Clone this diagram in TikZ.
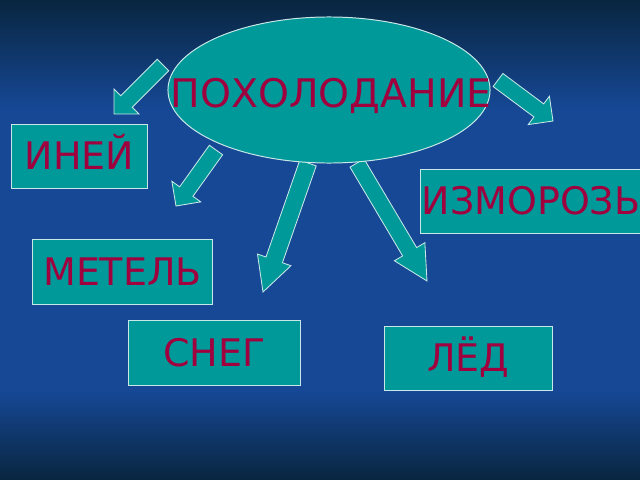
\documentclass[tikz,border=0pt]{standalone}
\usepackage{fontspec}
\setmainfont{DejaVu Sans}
\usetikzlibrary{calc,shapes.geometric}
\definecolor{seablue}{RGB}{22,72,150}
\definecolor{deepblue}{RGB}{9,38,64}
\definecolor{wave}{RGB}{0,153,153}
\definecolor{berry}{RGB}{160,0,62}
\definecolor{frost}{RGB}{200,232,232}
\tikzset{
  wordbox/.style={draw=frost, line width=0.7pt, fill=wave, inner sep=0pt, text=berry,
    font=\fontsize{27}{30}\selectfont, text height=19.7pt, text depth=0pt},
  bigoval/.style={ellipse, draw=frost, line width=0.7pt, fill=wave, inner sep=0pt,
    minimum width=8.05cm, minimum height=3.65cm},
  arrowbody/.style={draw=frost, line width=0.6pt, fill=wave}
}
\newcommand{\blockarrow}[5]{%
  \path ($(#2)!#5!(#1)$) coordinate (neck);
  \draw[arrowbody] ($(#1)!#3!90:(#2)$) -- ($(neck)!#3!90:(#2)$) -- ($(neck)!#4!90:(#2)$)
    -- (#2) -- ($(neck)!#4!-90:(#2)$) -- ($(neck)!#3!-90:(#2)$) -- ($(#1)!#3!-90:(#2)$) -- cycle;}
\begin{document}
\begin{tikzpicture}[x=0.025cm, y=-0.025cm]
  \useasboundingbox (0,0) rectangle (640,480);
  \fill[seablue] (0,0) rectangle (640,480);
  \shade[top color=deepblue, bottom color=seablue] (0,0) rectangle (640,110);
  \shade[top color=seablue, bottom color=deepblue] (0,390) rectangle (640,480);

  \coordinate (t1) at (163,65);  \coordinate (h1) at (114,114);
  \coordinate (t2) at (498,80);  \coordinate (h2) at (553,121);
  \coordinate (t3) at (216,150); \coordinate (h3) at (176,206);
  \coordinate (t4) at (308,163); \coordinate (h4) at (263,292);
  \coordinate (t5) at (357,163); \coordinate (h5) at (427,281);
  \blockarrow{t1}{h1}{5.8pt}{12.6pt}{12.6pt}
  \blockarrow{t2}{h2}{5.8pt}{12.6pt}{12.6pt}
  \blockarrow{t3}{h3}{5.8pt}{12.6pt}{12.6pt}
  \blockarrow{t4}{h4}{6.2pt}{12.6pt}{24.2pt}
  \blockarrow{t5}{h5}{5.8pt}{12.6pt}{24.2pt}

  \node[bigoval] (cold) at (329,90) {};
  \node[text=berry, font=\fontsize{28}{31}\selectfont, text height=20.4pt, text depth=0pt]
    (coldword) at (331,93) {ПОХОЛОДАНИЕ};

  \node[wordbox, minimum width=3.375cm, minimum height=1.6cm] (hoar) at (79.5,156) {ИНЕЙ};
  \node[wordbox, minimum width=5.5cm, minimum height=1.6cm] (rime) at (531,201) {ИЗМОРОЗЬ};
  \node[wordbox, minimum width=4.475cm, minimum height=1.625cm] (storm) at (122.5,272) {МЕТЕЛЬ};
  \node[wordbox, minimum width=4.275cm, minimum height=1.625cm] (snow) at (214.5,353) {СНЕГ};
  \node[wordbox, minimum width=4.175cm, minimum height=1.6cm] (ice) at (468.5,358) {ЛЁД};
\end{tikzpicture}
\end{document}
